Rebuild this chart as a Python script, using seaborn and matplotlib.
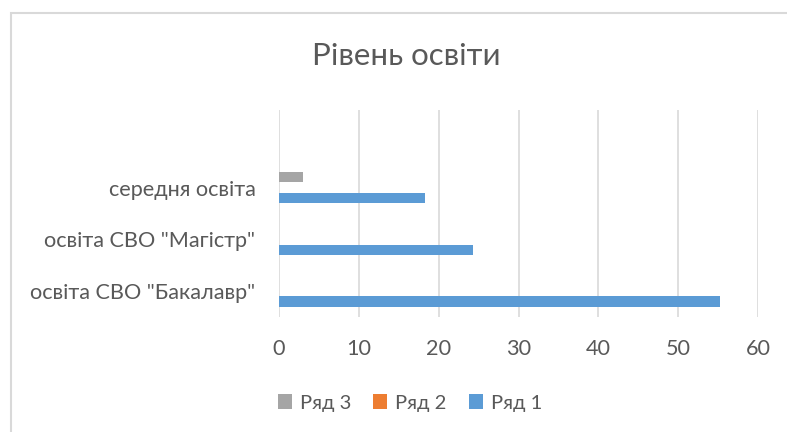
import matplotlib
matplotlib.use("Agg")
import matplotlib.pyplot as plt
import seaborn as sns
import pandas as pd
from matplotlib.patches import Rectangle, Patch

categories = ['середня освіта', 'освіта СВО "Магістр"', 'освіта СВО "Бакалавр"']
series_names = ['Ряд 3', 'Ряд 2', 'Ряд 1']
ryad1 = [18.3, 24.3, 55.3]
ryad2 = [0, 0, 0]
ryad3 = [3.0, 0, 0]
colors = {'Ряд 1': '#5B9BD5', 'Ряд 2': '#ED7D31', 'Ряд 3': '#A5A5A5'}
xticks = [0, 10, 20, 30, 40, 50, 60]
title = 'Рівень освіти'

rows = []
for name, vals in [('Ряд 1', ryad1), ('Ряд 2', ryad2), ('Ряд 3', ryad3)]:
    for c, v in zip(categories, vals):
        rows.append({'cat': c, 'series': name, 'value': v})
df = pd.DataFrame(rows)

sns.set_theme(style="white")
plt.rcParams['font.family'] = ['Lato', 'DejaVu Sans']
txt = '#595959'

fig = plt.figure(figsize=(7.87, 4.32), dpi=100)
ax = fig.add_axes([279/787, 1-317/432, (758-279)/787, (317-110)/432])

sns.barplot(data=df, y='cat', x='value', hue='series', order=categories,
            hue_order=series_names, palette=colors, orient='h', width=0.6,
            saturation=1, linewidth=0, edgecolor='none', ax=ax, legend=False)

ax.set_xlim(0, 60)
ax.set_ylim(2.5, -1.5)
ax.set_xticks(xticks)
ax.set_xticklabels([str(t) for t in xticks])
ax.xaxis.grid(True, color='#D9D9D9', linewidth=1.2)
ax.set_axisbelow(True)
for s in ax.spines.values():
    s.set_visible(False)
ax.tick_params(axis='both', length=0, labelsize=15.6, colors=txt)
ax.tick_params(axis='x', pad=16)
ax.tick_params(axis='y', pad=17)
ax.set_xlabel('')
ax.set_ylabel('')

fig.text(406/787, 1-56/432, title, ha='center', va='center', fontsize=22.5,
         color=txt, fontweight='normal')

handles = [Patch(facecolor=colors[n], edgecolor='none') for n in series_names]
fig.legend(handles, series_names, loc='center', bbox_to_anchor=(410/787, 1-403/432),
           ncol=3, frameon=False, fontsize=14.5, labelcolor=txt, handlelength=0.7,
           handleheight=0.7, handletextpad=0.4, columnspacing=1.1)

fig.patches.append(Rectangle((11/787, -0.1), 1.2, 1-13/432+0.1, transform=fig.transFigure,
                             fill=False, edgecolor='#D9D9D9', linewidth=1.5))

fig.savefig('out.png', dpi=100)
